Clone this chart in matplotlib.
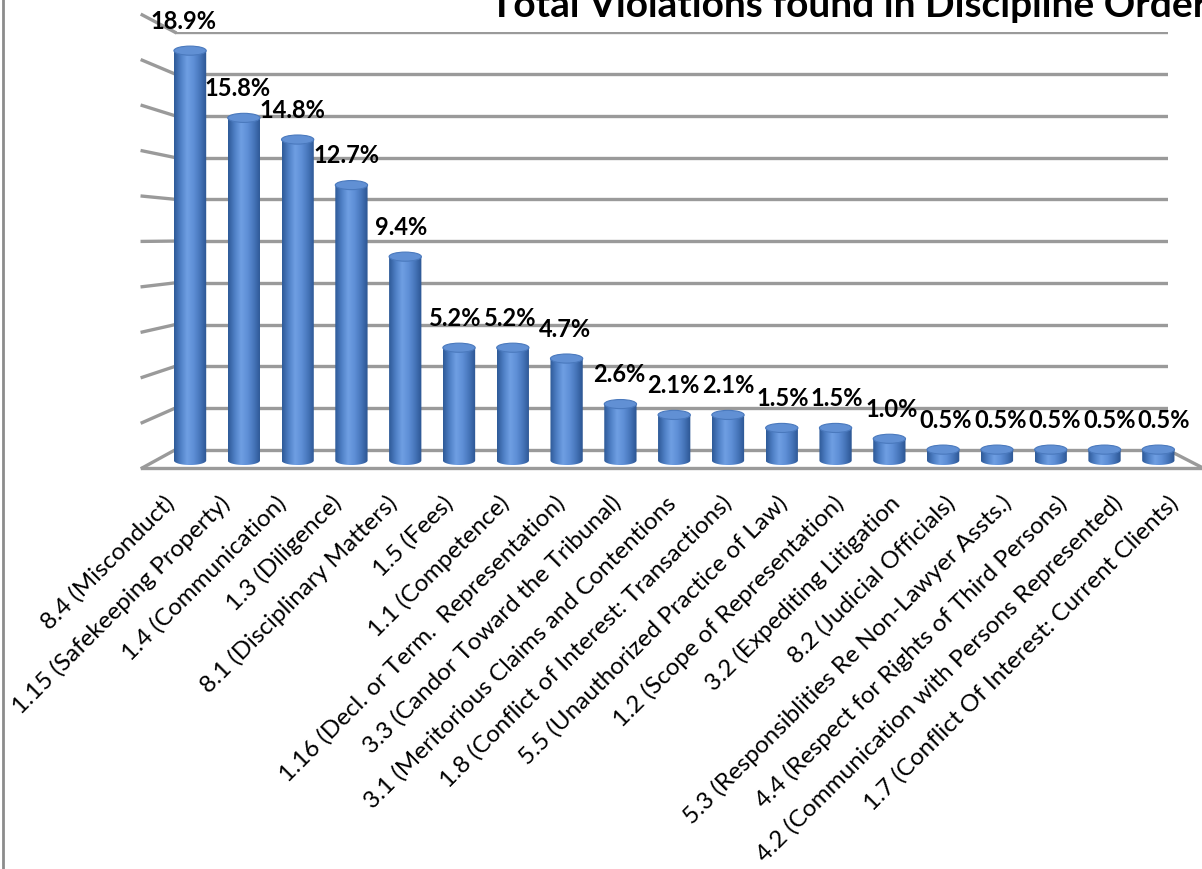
import matplotlib
matplotlib.use("Agg")
import matplotlib.pyplot as plt
import numpy as np
from matplotlib.colors import LinearSegmentedColormap
from matplotlib.lines import Line2D
from matplotlib.patches import Ellipse, PathPatch
from matplotlib.path import Path

plt.rcParams["font.family"] = ["Lato", "DejaVu Sans"]

TITLE = "Total Violations found in Discipline Orders"
rules = [
    "8.4 (Misconduct)",
    "1.15 (Safekeeping Property)",
    "1.4 (Communication)",
    "1.3 (Diligence)",
    "8.1 (Disciplinary Matters)",
    "1.5 (Fees)",
    "1.1 (Competence)",
    "1.16 (Decl. or Term.  Representation)",
    "3.3 (Candor Toward the Tribunal)",
    "3.1 (Meritorious Claims and Contentions",
    "1.8 (Conflict of Interest: Transactions)",
    "5.5 (Unauthorized Practice of Law)",
    "1.2 (Scope of Representation)",
    "3.2 (Expediting Litigation",
    "8.2 (Judicial Officials)",
    "5.3 (Responsiblities Re Non-Lawyer Assts.)",
    "4.4 (Respect for Rights of Third Persons)",
    "4.2 (Communication with Persons Represented)",
    "1.7 (Conflict Of Interest: Current Clients)",
]
share = [18.9, 15.8, 14.8, 12.7, 9.4, 5.2, 5.2, 4.7, 2.6, 2.1,
         2.1, 1.5, 1.5, 1.0, 0.5, 0.5, 0.5, 0.5, 0.5]
grid_levels = list(range(0, 21, 2))

W, H, DPI = 1202, 869, 100
BAR_W = 0.6
CAP_H = 0.42
GRID = "#9a9a9a"

fig = plt.figure(figsize=(W / DPI, H / DPI), dpi=DPI)


def px_box(left, top, right, bottom):
    return [left / W, 1 - bottom / H, (right - left) / W, (bottom - top) / H]


box = px_box(175, 32, 1168, 470)
xl, xr = -0.28, 18.18

# back wall: gridlines sit a little further away than the bars
back = fig.add_axes(box)
back.set_autoscale_on(False)
back.set_xlim(xl, xr)
back.set_ylim(-0.96, 20.01)
back.axis("off")
for g in grid_levels:
    back.plot([xl, xr], [g, g], color=GRID, lw=2.4, solid_capstyle="butt")
    # side wall
    back.plot([xl - 0.61, xl], [-0.862 + g * 1.0846, g], color=GRID, lw=2.4,
              clip_on=False)
back.plot([xl - 0.61, xr + 0.7], [-0.862, -0.862], color=GRID, lw=2.4, clip_on=False)
back.plot([xr, xr + 0.65], [0, -0.862], color=GRID, lw=2.4, clip_on=False)

ax = fig.add_axes(box)
ax.patch.set_visible(False)
for s in ax.spines.values():
    s.set_visible(False)

cyl = LinearSegmentedColormap.from_list(
    "cyl", ["#2e5a98", "#4f80c6", "#6f9fe3", "#5e8fd6", "#4675ba", "#2b5592"])
grad = np.linspace(0, 1, 64)[None, :]

for i, v in enumerate(share):
    left, right = i - BAR_W / 2, i + BAR_W / 2
    t = np.linspace(np.pi, 2 * np.pi, 40)
    arc = np.column_stack([i + BAR_W / 2 * np.cos(t), CAP_H / 2 * np.sin(t)])
    outline = np.vstack([[left, v], arc, [right, v], [left, v]])
    body = PathPatch(Path(outline), transform=ax.transData)
    im = ax.imshow(grad, cmap=cyl, extent=(left, right, -CAP_H / 2, v),
                   aspect="auto", interpolation="bicubic", zorder=3)
    im.set_clip_path(body)
    im.set_clip_box(fig.bbox)
    ax.add_patch(Ellipse((i, v), BAR_W, CAP_H, facecolor="#6190d4",
                         edgecolor="#4a79bd", lw=0.8, zorder=4, clip_on=False))
    ax.annotate(f"{v:.1f}%", (i, v), xytext=((-7 + 0.7 * i) * 0.72, 21),
                textcoords="offset points", ha="center", va="center",
                fontsize=17, fontweight="bold", zorder=5, annotation_clip=False)

    # category label, anchored at its top-right end below the floor
    ax.annotate(rules[i], (i, 0), xycoords=("data", "axes fraction"),
                xytext=((-27 + 2.0 * i) * 0.72, -22 * 0.72),
                textcoords="offset points", ha="right", va="top",
                rotation=45, rotation_mode="anchor", fontsize=17.5,
                annotation_clip=False)

ax.set_xlim(xl, xr)
ax.set_ylim(-0.44, 19.76)
ax.set_xticks([])
ax.set_yticks([])

fig.text(490 / W, 1 - 17 / H, TITLE, fontsize=28, fontweight="bold",
         ha="left", va="baseline")
fig.add_artist(Line2D([3 / W, 3 / W], [0, 1], transform=fig.transFigure,
                      color="#8c8c8c", lw=2))

fig.savefig("out.png", dpi=DPI)
